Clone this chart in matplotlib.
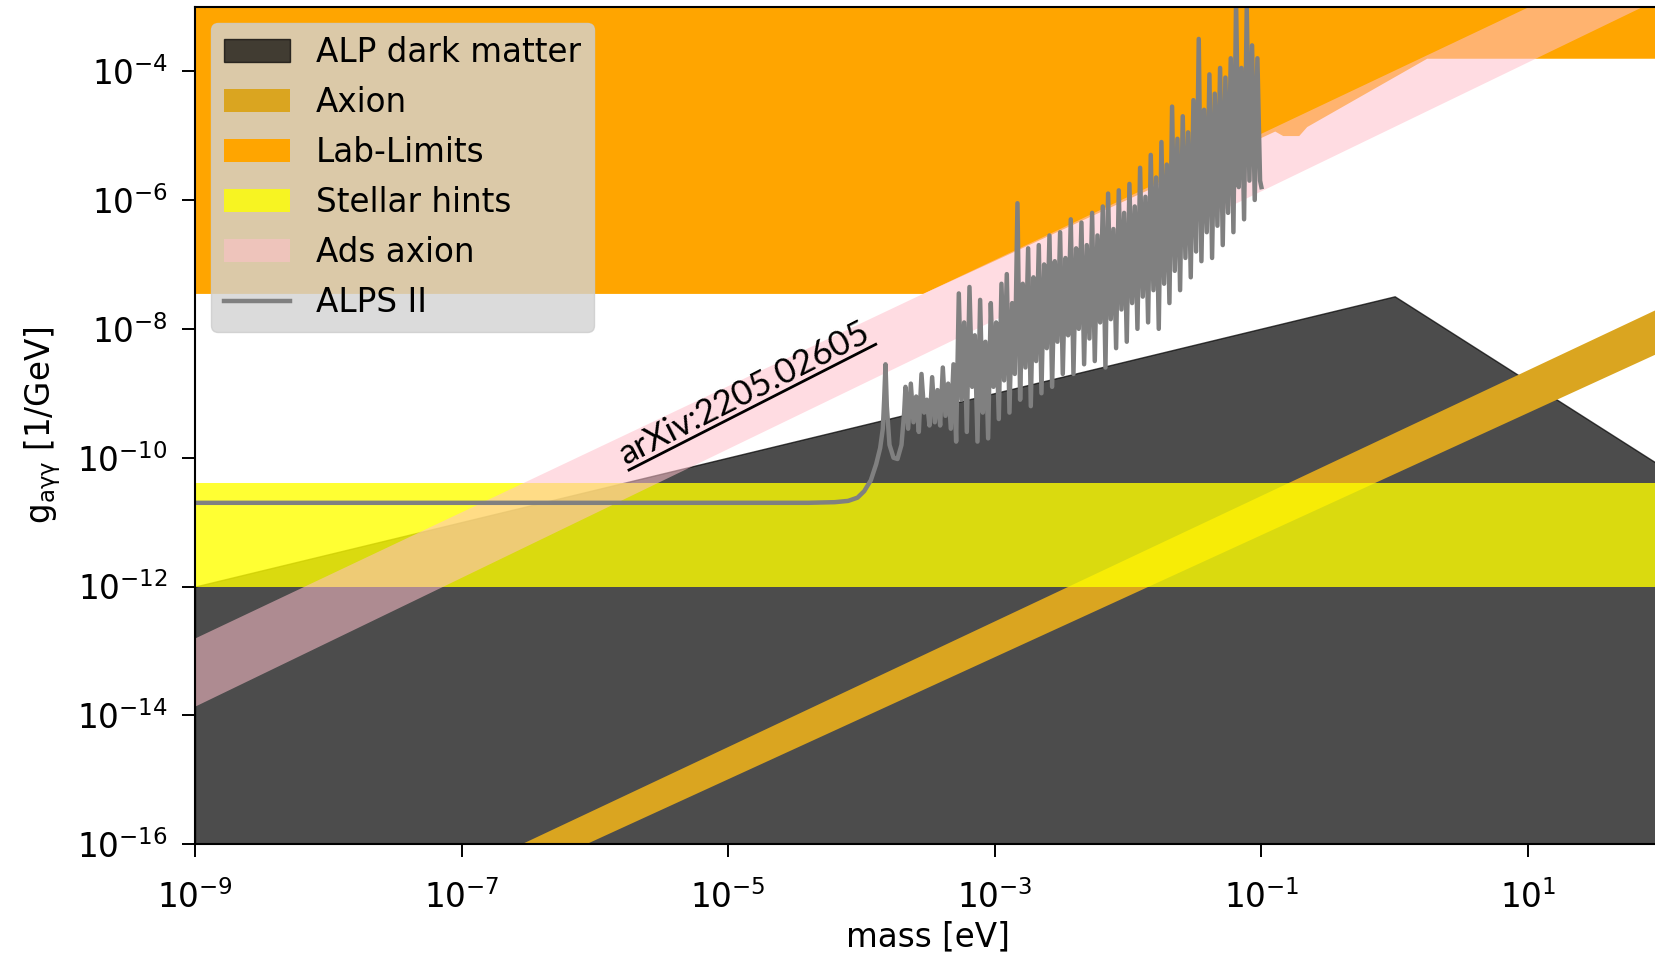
#ALP parameter space: coupling vs mass

import numpy as np
import matplotlib
matplotlib.use('Agg')
import matplotlib.pyplot as plt
from matplotlib.lines import Line2D
from matplotlib.transforms import IdentityTransform

#Values

x_ticks = [1e-9, 1e-7, 1e-5, 1e-3, 1e-1, 1e1]
y_ticks = [1e-16, 1e-14, 1e-12, 1e-10, 1e-8, 1e-6, 1e-4]

dm_mass = [1e-9, 1e0, 1e2]                 #ALP dark matter, upper edge
dm_upper = [1e-12, 3.2e-8, 7.4e-11]

axion_mass = [1e-9, 1e2]                   #QCD axion band
axion_lower = [1.7e-19, 4.5e-9]
axion_upper = [4.2e-19, 2.2e-8]

lab_logm = [-9.0, -3.54, -0.90, -0.84, -0.72, -0.66, 0.24, 2.0]      #lab limits, lower edge (log10)
lab_logg = [-7.45, -7.45, -4.93, -5.00, -5.00, -4.86, -3.80, -3.80]

stellar_mass = [1e-9, 1e2]                 #stellar hints
stellar_lower = [1e-12, 1e-12]
stellar_upper = [4e-11, 4e-11]

ads_mass = [1e-9, 1e2]                     #Ads axion band
ads_lower = [1.4e-14, 1.4e-3]
ads_upper = [1.6e-13, 9.5e-3]

#ALPS II sensitivity curve (log10 mass, log10 coupling)
alps_logm = [-9.00, -5.00, -4.40, -4.20, -4.10, -4.03, -3.98, -3.93, -3.89, -3.86,
             -3.84, -3.83, -3.82, -3.81, -3.79, -3.76, -3.73, -3.70, -3.68, -3.67,
             -3.65, -3.63, -3.61, -3.59, -3.57, -3.55, -3.53, -3.51, -3.49, -3.47,
             -3.45, -3.43, -3.41, -3.39, -3.37, -3.35, -3.33, -3.31, -3.29, -3.27,
             -3.25, -3.23, -3.21, -3.19, -3.17, -3.15, -3.13, -3.11, -3.09, -3.07,
             -3.05, -3.03, -3.01, -2.99, -2.97, -2.95, -2.93, -2.91, -2.89, -2.87,
             -2.85, -2.83, -2.81, -2.79, -2.77, -2.75, -2.73, -2.71, -2.69, -2.67,
             -2.65, -2.63, -2.61, -2.59, -2.57, -2.55, -2.53, -2.51, -2.49, -2.47,
             -2.45, -2.43, -2.41, -2.39, -2.37, -2.35, -2.33, -2.31, -2.29, -2.27,
             -2.25, -2.23, -2.21, -2.19, -2.17, -2.15, -2.13, -2.11, -2.09, -2.07,
             -2.05, -2.03, -2.01, -1.99, -1.97, -1.95, -1.93, -1.91, -1.89, -1.87,
             -1.85, -1.83, -1.81, -1.79, -1.77, -1.75, -1.73, -1.71, -1.69, -1.67,
             -1.65, -1.63, -1.61, -1.59, -1.57, -1.55, -1.53, -1.51, -1.49, -1.47,
             -1.45, -1.43, -1.41, -1.39, -1.37, -1.35, -1.33, -1.31, -1.29, -1.27,
             -1.25, -1.23, -1.21, -1.19, -1.17, -1.15, -1.13, -1.11, -1.09, -1.07,
             -1.05, -1.03, -1.01, -1.00]
alps_logg = [-10.70, -10.70, -10.70, -10.69, -10.67, -10.62, -10.52, -10.35, -10.10, -9.85,
             -9.55, -9.10, -8.55, -9.20, -9.80, -10.00, -10.02, -9.80, -9.30, -8.90,
             -9.55, -8.85, -9.45, -9.05, -9.60, -8.70, -9.30, -9.10, -9.50, -8.75,
             -9.45, -8.95, -9.50, -8.60, -9.35, -8.85, -9.55, -8.55, -9.75, -7.45,
             -9.10, -7.90, -9.60, -7.35, -8.90, -8.10, -9.75, -7.55, -9.30, -8.20,
             -9.70, -7.60, -8.90, -7.90, -9.40, -7.30, -8.80, -7.15, -9.30, -7.60,
             -8.70, -6.05, -9.10, -7.30, -8.60, -6.75, -9.20, -7.20, -8.50, -6.70,
             -9.00, -7.00, -8.30, -6.55, -8.90, -6.95, -8.20, -6.50, -8.70, -6.90,
             -8.10, -6.30, -8.70, -6.75, -8.00, -6.35, -8.55, -6.70, -8.15, -6.20,
             -8.50, -6.55, -7.90, -6.10, -8.60, -5.90, -7.85, -6.45, -8.30, -5.85,
             -7.70, -6.20, -8.20, -5.75, -7.60, -6.10, -8.00, -5.50, -7.50, -5.95,
             -7.90, -5.30, -7.40, -5.65, -8.00, -5.10, -7.30, -5.45, -7.60, -4.55,
             -7.10, -5.05, -7.40, -4.70, -6.90, -4.95, -7.20, -4.45, -6.80, -3.50,
             -6.95, -4.60, -6.50, -4.05, -6.90, -4.35, -6.40, -3.95, -6.70, -4.10,
             -6.20, -3.80, -6.50, -2.90, -5.80, -3.95, -6.30, -3.00, -5.70, -3.60,
             -6.00, -3.80, -5.70, -5.80]

#Figure

plt.rcParams['font.size'] = 23.5

W, H = 1656, 958
fig = plt.figure(figsize=(W/100, H/100), dpi=100)
ax = fig.add_axes([195/W, 113.7/H, 1466.3/W, 837.6/H])

ax.fill_between(dm_mass, 1e-20, dm_upper, color='k', alpha=0.7, lw=1, label='ALP dark matter')
ax.fill_between(axion_mass, axion_lower, axion_upper, color='goldenrod', lw=0, label='Axion')
ax.fill_between(10**np.array(lab_logm), 10**np.array(lab_logg), 1, color='orange', lw=0, label='Lab-Limits')
ax.fill_between(stellar_mass, stellar_lower, stellar_upper, color='yellow', alpha=0.8, lw=0, label='Stellar hints')
ax.fill_between(ads_mass, ads_lower, ads_upper, color='pink', alpha=0.55, lw=0, label='Ads axion')
ax.plot(10**np.array(alps_logm), 10**np.array(alps_logg), color='gray', lw=3.2, label='ALPS II')

ax.set_xscale('log')
ax.set_yscale('log')
ax.set_xlim(1e-9, 1e2)
ax.set_ylim(1e-16, 1e-3)
ax.set_xticks(x_ticks)
ax.set_yticks(y_ticks)
ax.minorticks_off()
ax.tick_params(length=9.5, width=1.4, pad=10)
ax.tick_params(axis='x', pad=16)
for s in ax.spines.values():
    s.set_linewidth(1.5)

ax.set_xlabel('mass [eV]', labelpad=4)
ax.set_ylabel(r'g$_{\mathrm{a\gamma\gamma}}$ [1/GeV]', labelpad=10)

leg = ax.legend(loc='upper left', facecolor='lightgray', framealpha=0.8, labelspacing=0.52)

#Reference note along the Ads band, underlined by hand

note = 'arXiv:2205.02605'
note_m, note_g = 1.72e-6, 7.8e-11
ang = 27
fs_note = 25
ax.text(note_m, note_g, note, family='Lato', fontsize=fs_note, rotation=ang,
        rotation_mode='anchor', ha='left', va='baseline')

fig.canvas.draw()
renderer = fig.canvas.get_renderer()
tmp = fig.text(0, 0, note, family='Lato', fontsize=fs_note)
w = tmp.get_window_extent(renderer).width
tmp.remove()
x0, y0 = ax.transData.transform((note_m, note_g))
th = np.deg2rad(ang)
off = 6
ux = [x0 + off*np.sin(th), x0 + w*np.cos(th) + off*np.sin(th)]
uy = [y0 - off*np.cos(th), y0 + w*np.sin(th) - off*np.cos(th)]
fig.add_artist(Line2D(ux, uy, transform=IdentityTransform(), color='k', lw=2))

fig.savefig('out.png', dpi=100)
